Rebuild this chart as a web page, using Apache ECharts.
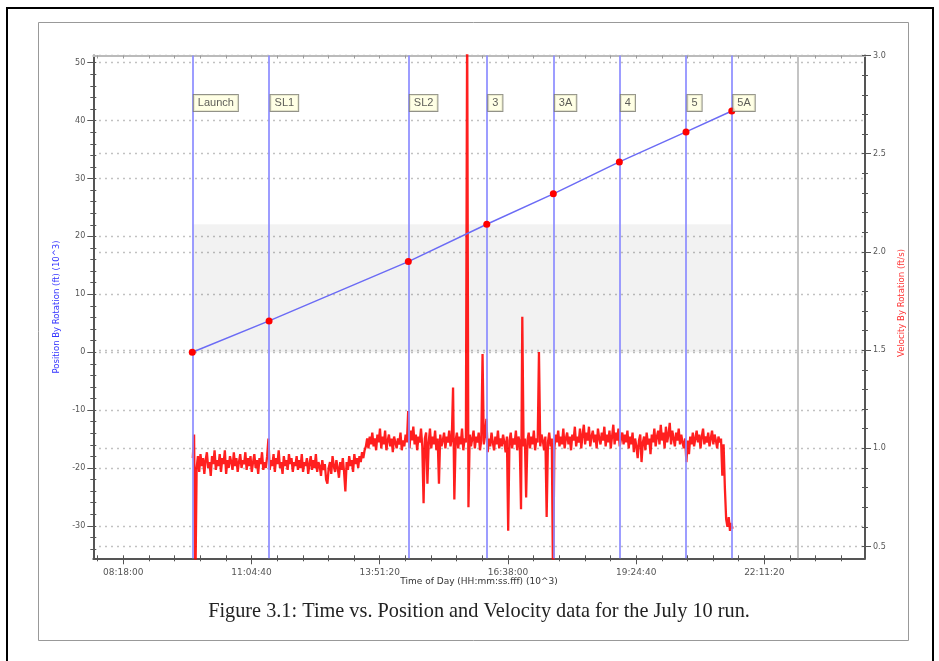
<!DOCTYPE html>
<html><head><meta charset="utf-8">
<script src="https://cdn.jsdelivr.net/npm/echarts@6/dist/echarts.min.js"></script>
<style>html,body{margin:0;padding:0;background:#fff}#c{width:939px;height:661px}</style>
</head><body><div id="c"></div>
<script>
// ---- data (times in 10^3 s of day) ----
const eventNames = ['Launch', 'SL1', 'SL2', '3', '3A', '4', '5', '5A'];
const eventTimes = [35.26, 41.25, 52.11, 58.23, 63.42, 68.57, 73.77, 77.34];
const eventPositions = [0, 5.41, 15.65, 22.1, 27.35, 32.87, 38.05, 41.67];
const endMarkerTime = 82.51;
const shadeTimes = [35.26, 77.34];
const shadePositions = [0, 22.1];
const labelPosition = 43.06;

const timeTicks = [29.88, 39.88, 49.88, 59.88, 69.88, 79.88];
const timeTickLabels = ['08:18:00', '11:04:40', '13:51:20', '16:38:00', '19:24:40', '22:11:20'];
const positionTicks = [-30, -20, -10, 0, 10, 20, 30, 40, 50];
const velocityTicks = [0.5, 1.0, 1.5, 2.0, 2.5, 3.0];
const velocityTickLabels = ['0.5', '1.0', '1.5', '2.0', '2.5', '3.0'];

const velocityStart = 35.30;
const velocityStep = 0.1;
const velocityValues = [
0.95,1.07,0.30,0.90,0.96,0.88,0.97,0.91,0.95,0.87,0.94,0.98,0.90,0.93,0.86,0.96,0.92,0.99,0.89,0.94,
0.91,0.97,0.88,0.95,0.92,0.99,0.87,0.94,0.90,0.96,0.93,0.89,0.98,0.91,0.95,0.88,0.93,0.97,0.90,0.94,
0.92,0.98,0.89,0.95,0.91,0.96,0.88,0.93,0.97,0.90,0.94,0.87,0.95,0.92,0.98,0.89,0.93,0.90,0.96,1.05,
0.89,0.94,0.91,0.97,0.88,0.95,0.92,0.99,0.90,0.93,0.87,0.96,0.91,0.94,0.89,0.97,0.92,0.95,0.88,0.93,
0.91,0.96,0.89,0.94,0.90,0.97,0.88,0.93,0.91,0.95,0.87,0.92,0.96,0.89,0.94,0.90,0.97,0.88,0.93,0.91,
0.86,0.94,0.89,0.92,0.84,0.82,0.90,0.93,0.87,0.96,0.91,0.88,0.94,0.90,0.85,0.93,0.89,0.95,0.88,0.78,
0.93,0.89,0.96,0.91,0.94,0.88,0.97,0.92,0.95,0.90,0.96,0.93,0.98,0.95,0.99,1.01,1.05,1.00,1.06,1.02,
1.08,1.01,1.05,0.99,1.07,1.03,1.10,1.00,1.06,1.02,1.09,0.99,1.04,1.07,1.01,1.05,0.98,1.06,1.03,1.00,
1.05,1.02,1.08,0.99,1.04,1.01,1.07,1.03,1.19,1.00,1.09,1.04,1.11,1.02,1.07,0.99,1.06,1.03,1.10,1.01,
0.72,1.05,1.08,0.82,1.03,1.10,1.00,1.06,1.02,1.09,0.99,1.05,0.82,1.07,1.01,1.04,1.08,1.00,1.06,1.03,
1.09,1.01,1.05,1.31,0.74,1.04,1.08,1.00,1.06,1.02,1.10,0.99,1.05,1.03,3.20,0.70,1.07,1.01,1.05,1.09,
1.00,1.06,1.03,1.08,0.99,1.04,1.48,1.02,1.07,1.15,0.98,1.05,1.01,1.08,1.03,0.99,1.06,1.02,1.09,1.00,
1.05,1.01,1.07,1.03,0.98,1.06,0.58,1.04,1.08,1.00,1.05,1.02,1.09,0.99,1.06,1.03,0.69,1.67,1.01,1.05,
0.75,1.04,1.08,1.00,1.06,1.02,1.09,0.99,1.05,1.03,1.49,1.01,1.07,1.04,0.99,1.06,0.65,1.03,1.08,1.01,
1.05,0.30,1.00,1.07,1.03,1.09,1.01,1.06,1.02,1.10,1.00,1.05,1.08,1.02,1.06,0.99,1.07,1.04,1.11,1.01,
1.06,1.03,1.10,1.00,1.07,1.12,1.02,1.08,1.04,1.11,1.01,1.06,1.09,1.03,1.07,1.00,1.10,1.05,1.02,1.08,
1.04,1.11,1.01,1.07,1.03,1.09,1.00,1.06,1.12,1.02,1.08,1.04,1.10,1.01,1.05,1.08,1.02,1.07,1.03,1.09,
1.00,1.06,1.02,1.08,0.98,1.05,1.01,0.95,1.04,1.07,0.93,1.03,1.06,0.99,1.08,1.02,1.05,0.97,1.07,1.03,
1.10,1.01,1.06,1.09,1.02,1.12,1.04,1.08,1.00,1.11,1.03,1.07,1.13,1.02,1.09,1.05,1.01,1.08,1.04,1.10,
1.02,1.07,1.03,1.00,1.05,0.93,1.04,0.97,1.06,1.02,1.08,1.01,1.05,1.09,1.03,1.07,1.00,1.06,1.10,1.02,
1.06,1.03,1.08,1.01,1.05,1.09,1.02,1.07,1.04,1.00,1.06,1.03,1.05,0.86,1.02,0.80,0.64,0.60,0.65,0.58,0.62,0.59
];

// ---- axis ranges ----
const X_MIN = 27.54, X_MAX = 87.73;
const P_MIN = -35.6, P_MAX = 51.25;
const V_MIN = 0.44, V_MAX = 3.0;

function steps(from, to, step, skip) {
  const out = [];
  for (let v = from; v <= to + 1e-9; v += step) {
    const r = Math.round(v * 1000) / 1000;
    if (!skip || !skip.some(s => Math.abs(s - r) < 1e-6)) out.push(r);
  }
  return out;
}
const xMinor = steps(27.88, 87.88, 2, timeTicks);
const xAll = steps(27.88, 87.88, 2);
const pMinor = steps(-34, 50, 2, positionTicks);
const pAll = steps(-34, 50, 2);
const vMinor = steps(0.5, 3.0, 0.1, velocityTicks);
const vAll = steps(0.5, 3.0, 0.1);

const AX = '#555';
const FONT = 'DejaVu Sans';
const gridLine = { show: true, lineStyle: { color: '#a8a8a8', width: 1.4, type: [1.4, 4.6] } };

function tickOnly(base, values, len, inside, color, lineShow, lineColor) {
  return Object.assign({
    type: 'value',
    axisLine: { show: !!lineShow, onZero: false, lineStyle: { color: lineColor || AX, width: 2 } },
    axisLabel: { show: false },
    splitLine: { show: false },
    axisTick: { show: true, inside: inside, length: len, customValues: values,
      lineStyle: { color: color || AX, width: 1 } }
  }, base);
}

function nearestLabel(v, ticks, labels) {
  let bi = 0, bd = Infinity;
  ticks.forEach((t, i) => { const d = Math.abs(t - v); if (d < bd) { bd = d; bi = i; } });
  return labels[bi];
}

const xAxes = [
  { type: 'value', min: X_MIN, max: X_MAX, position: 'bottom',
    axisLine: { show: true, onZero: false, lineStyle: { color: AX, width: 2 } },
    axisTick: { show: true, length: 6, customValues: timeTicks, lineStyle: { color: AX, width: 1 } },
    axisLabel: { show: true, customValues: timeTicks, fontSize: 9, color: '#555', margin: 10,
      fontFamily: FONT, formatter: v => nearestLabel(v, timeTicks, timeTickLabels) },
    splitLine: { show: false } },
  tickOnly({ min: X_MIN, max: X_MAX, position: 'bottom' }, xMinor, 3, false),
  tickOnly({ min: X_MIN, max: X_MAX, position: 'bottom' }, xAll, 3, true),
  tickOnly({ min: X_MIN, max: X_MAX, position: 'top' }, xAll, 3, true, '#999', true, '#bbb')
];

const yAxes = [
  { type: 'value', min: P_MIN, max: P_MAX, position: 'left',
    axisLine: { show: true, onZero: false, lineStyle: { color: AX, width: 2 } },
    axisTick: { show: true, length: 6, customValues: positionTicks, lineStyle: { color: AX, width: 1 } },
    axisLabel: { show: true, customValues: positionTicks, fontSize: 8, color: '#555', margin: 8,
      fontFamily: FONT },
    splitLine: gridLine },
  { type: 'value', min: V_MIN, max: V_MAX, position: 'right',
    axisLine: { show: true, onZero: false, lineStyle: { color: AX, width: 2 } },
    axisTick: { show: true, length: 6, customValues: velocityTicks, lineStyle: { color: AX, width: 1 } },
    axisLabel: { show: true, customValues: velocityTicks, fontSize: 8, color: '#555', margin: 8,
      fontFamily: FONT, formatter: v => nearestLabel(v, velocityTicks, velocityTickLabels) },
    splitLine: gridLine },
  tickOnly({ min: P_MIN, max: P_MAX, position: 'left' }, pMinor, 3, false),
  tickOnly({ min: P_MIN, max: P_MAX, position: 'left' }, pAll, 3, true),
  tickOnly({ min: V_MIN, max: V_MAX, position: 'right' }, vMinor, 3, false),
  tickOnly({ min: V_MIN, max: V_MAX, position: 'right' }, vAll, 3, true)
];

const chart = echarts.init(document.getElementById('c'), null, { renderer: 'canvas' });
chart.setOption({
  animation: false,
  backgroundColor: '#fff',
  grid: { left: 93.3, right: 74, top: 55.5, bottom: 102.7, containLabel: false },
  xAxis: xAxes,
  yAxis: yAxes,
  graphic: [
    { type: 'rect', shape: { x: 7, y: 8, width: 926, height: 700 }, style: { fill: 'none', stroke: '#000', lineWidth: 2 }, silent: true, z: -10 },
    { type: 'rect', shape: { x: 38.5, y: 22.5, width: 870, height: 618 }, style: { fill: 'none', stroke: '#999', lineWidth: 1 }, silent: true, z: -10 },
    { type: 'text', x: 57, y: 307, rotation: Math.PI / 2,
      style: { text: 'Position By Rotation (ft) (10^3)', fill: '#3333ff', font: '8.5px "DejaVu Sans"', textAlign: 'center', textVerticalAlign: 'middle' } },
    { type: 'text', x: 902, y: 303, rotation: Math.PI / 2,
      style: { text: 'Velocity By Rotation (ft/s)', fill: '#ff3333', font: '8.5px "DejaVu Sans"', textAlign: 'center', textVerticalAlign: 'middle' } },
    { type: 'text', x: 479, y: 582,
      style: { text: 'Time of Day (HH:mm:ss.fff) (10^3)', fill: '#333', font: '9px "DejaVu Sans"', textAlign: 'center', textVerticalAlign: 'middle' } },
    { type: 'text', x: 479, y: 612,
      style: { text: 'Figure 3.1: Time vs. Position and Velocity data for the July 10 run.', fill: '#222', font: '20.3px "Liberation Serif"', textAlign: 'center', textVerticalAlign: 'middle' } }
  ],
  series: [
    { name: 'Velocity', type: 'line', xAxisIndex: 0, yAxisIndex: 1, z: 2,
      data: velocityValues.map((v, i) => [velocityStart + i * velocityStep, v]),
      showSymbol: false, symbol: 'none', clip: true, sampling: false,
      lineStyle: { color: '#ff0000', width: 2.3, opacity: 0.88 } },
    { name: 'Position', type: 'line', xAxisIndex: 0, yAxisIndex: 0, z: 6,
      data: eventTimes.map((t, i) => [t, eventPositions[i]]),
      symbol: 'circle', symbolSize: 7, showSymbol: true,
      itemStyle: { color: '#ff0000' },
      lineStyle: { color: '#6b6bf5', width: 1.5 },
      markArea: { silent: true, itemStyle: { color: 'rgba(0,0,0,0.05)' },
        data: [[{ xAxis: shadeTimes[0], yAxis: shadePositions[0] }, { xAxis: shadeTimes[1], yAxis: shadePositions[1] }]] },
      markLine: { silent: true, symbol: ['none', 'none'], label: { show: false },
        lineStyle: { color: '#8c8cff', width: 2, type: 'solid', opacity: 0.85 },
        data: eventTimes.map(t => ({ xAxis: t })).concat([{ xAxis: endMarkerTime, lineStyle: { color: '#c4c4c4', width: 2, type: 'solid', opacity: 1 } }]) } },
    { name: 'Events', type: 'scatter', xAxisIndex: 0, yAxisIndex: 0, z: 7,
      data: eventTimes.map((t, i) => [t, labelPosition, eventNames[i]]),
      symbolSize: 1, itemStyle: { color: 'rgba(0,0,0,0)' },
      label: { show: true, position: 'right', distance: 1, formatter: p => p.data[2],
        fontSize: 11, fontFamily: 'Liberation Sans', color: '#333', lineHeight: 12,
        backgroundColor: '#ffffde', borderColor: '#77776a', borderWidth: 1, padding: [2, 4, 2, 4] } }
  ]
});
</script>
</body></html>
